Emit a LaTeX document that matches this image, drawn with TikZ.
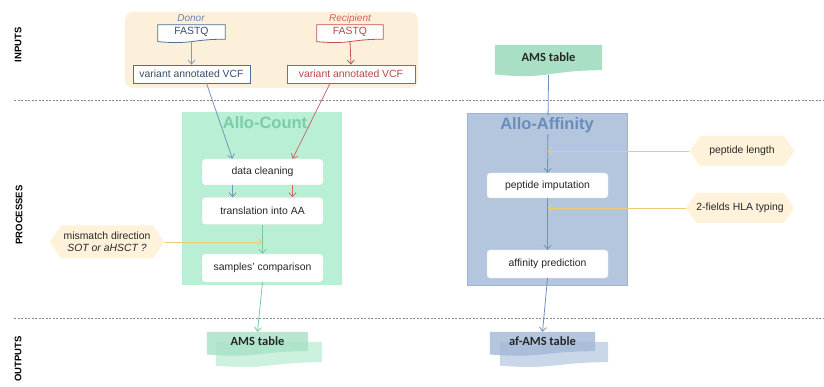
\documentclass[tikz,border=0pt]{standalone}
\usepackage{fontspec}
\setmainfont{Liberation Sans}
\newfontfamily\calib{Carlito}
\usetikzlibrary{arrows.meta,calc,shapes.symbols,backgrounds}
\definecolor{beige}{HTML}{FCF0DA}
\definecolor{donorc}{HTML}{4E6E9E}
\definecolor{recc}{HTML}{C8504F}
\definecolor{cntfill}{HTML}{B8EFD5}
\definecolor{cnttitle}{HTML}{7ACDA5}
\definecolor{cntline}{HTML}{7CC7A2}
\definecolor{afffill}{HTML}{B3C6DD}
\definecolor{affdraw}{HTML}{9EB4D0}
\definecolor{afftitle}{HTML}{6A8CB8}
\definecolor{affline}{HTML}{6F8FBD}
\definecolor{hexfill}{HTML}{FEF3DA}
\definecolor{yelline}{HTML}{EBCB7A}
\definecolor{amsinc}{HTML}{A9DFC4}
\definecolor{amsfront}{HTML}{A6E1C5}
\definecolor{amsback}{HTML}{CDF1DF}
\definecolor{affront}{HTML}{A1B8D6}
\definecolor{afback}{HTML}{C9D7E8}
\definecolor{sepc}{HTML}{8A8A8A}
\pgfdeclarelayer{back}
\pgfdeclarelayer{docs}
\pgfsetlayers{back,docs,main}
\newcommand\wavedoc[2]{%
  \path[#2] let \p1=(#1.north west), \p2=(#1.south east) in
    (\x1,\y1) -- (\x2,\y1) -- (\x2,\y2)
    .. controls ({(\x1+\x2)/2},\y2) and ({(\x1+\x2)/2},{\y1+1.384*(\y2-\y1)}) ..
    (\x1,{\y1+1.1675*(\y2-\y1)}) -- cycle;}
\tikzset{
  txt/.style={font=\fontsize{10.4}{12.5}\selectfont, text=black!85},
  sect/.style={font=\fontsize{9.5}{11}\selectfont\bfseries, rotate=90, text=black},
  sepline/.style={sepc, line width=1pt, dash pattern=on 2pt off 1.5pt},
  docnode/.style={txt, inner sep=0pt, draw=none},
  proc/.style={txt, draw=black!12, fill=white, rounded corners=3pt, inner sep=0pt, minimum width=121pt},
  vcf/.style={txt, fill=white, line width=0.8pt, inner sep=0pt, minimum height=18pt},
  bigbox/.style={inner sep=0pt},
  title/.style={font=\fontsize{16.5}{19}\selectfont\bfseries, inner sep=1pt},
  hexa/.style={txt, signal, signal to=west and east, signal pointer angle=110, fill=hexfill, inner sep=0pt},
  arr/.style={line width=0.8pt, -{Straight Barb[length=4pt,width=7pt]}},
  tablelbl/.style={font=\calib\fontsize{12.5}{14}\selectfont\bfseries, text=black!85},
}
\begin{document}
\begin{tikzpicture}[x=1pt,y=-1pt]
\useasboundingbox (0,0) rectangle (824,387);
% separators
\coordinate (s1a) at (14,101); \coordinate (s1b) at (824,101);
\coordinate (s2a) at (14,318); \coordinate (s2b) at (824,318);
\draw[sepline] (s1a) -- (s1b);
\draw[sepline] (s2a) -- (s2b);
% section labels
\node[sect] (lin) at (18,45) {INPUTS};
\node[sect] (lpr) at (19,215) {PROCESSES};
\node[sect] (lout) at (18,359) {OUTPUTS};
% background boxes
\begin{pgfonlayer}{back}
\node[bigbox, fill=beige, rounded corners=8pt, minimum width=293pt, minimum height=76pt] (inbg) at (271.5,50) {};
\node[bigbox, fill=cntfill, minimum width=160pt, minimum height=173pt] (allocount) at (262,198.5) {};
\node[bigbox, fill=afffill, draw=affdraw, line width=0.8pt, minimum width=160pt, minimum height=172pt] (alloaff) at (547,199) {};
\end{pgfonlayer}
% inputs
\node[font=\fontsize{10}{12}\selectfont\itshape, text=donorc!85] (donorlbl) at (191,18.5) {Donor};
\node[docnode, text=donorc!70!black, minimum width=67pt, minimum height=14pt] (donorfq) at (191.5,32) {FASTQ};
\node[vcf, draw=donorc, text=donorc!70!black, minimum width=117pt] (donorvcf) at (191.5,74) {variant annotated VCF};
\node[font=\fontsize{10}{12}\selectfont\itshape, text=recc!90] (reclbl) at (350,18.5) {Recipient};
\node[docnode, text=recc!90!black, minimum width=66pt, minimum height=14pt] (recfq) at (350,32) {FASTQ};
\node[vcf, draw=recc, text=recc!90!black, minimum width=128pt] (recvcf) at (351,74) {variant annotated VCF};
\node[docnode, tablelbl, minimum width=107pt, minimum height=25pt] (amsin) at (548.5,57.5) {AMS table};
% process nodes
\node[title, text=cnttitle] (cnttl) at (265,123) {Allo-Count};
\node[proc, minimum height=26pt] (dc) at (262.5,172) {data cleaning};
\node[proc, minimum height=27pt] (tr) at (262.5,211) {translation into AA};
\node[proc, minimum height=28pt] (sc) at (262.5,268) {samples' comparison};
\node[proc, minimum height=25pt] (pi) at (547.5,185.5) {peptide imputation};
\node[proc, minimum height=28pt] (ap) at (547.5,264) {affinity prediction};
% parameter hexagons
\node[hexa, minimum width=115pt, minimum height=33pt, align=center] (mm) at (107,242)
  {mismatch direction\\\textit{SOT or aHSCT ?}};
\node[hexa, minimum width=105pt, minimum height=30pt] (pl) at (742,151) {peptide length};
\node[hexa, minimum width=100pt, minimum height=30pt] (hla) at (740,208) {2-fields HLA typing};
% outputs
\node[docnode, minimum width=106pt, minimum height=20pt] (amsoutb) at (269,352) {};
\node[docnode, minimum width=101pt, minimum height=19pt] (amsout) at (257.5,341.5) {};
\node[tablelbl] (amsouttxt) at (257.5,341) {AMS table};
\node[docnode, minimum width=108pt, minimum height=20pt] (afoutb) at (554,352) {};
\node[docnode, minimum width=105pt, minimum height=19pt] (afout) at (542.5,341.5) {};
\node[tablelbl] (afouttxt) at (542.5,341) {af-AMS table};
% document shapes
\begin{pgfonlayer}{docs}
\wavedoc{donorfq}{fill=white, draw=donorc, line width=0.8pt}
\wavedoc{recfq}{fill=white, draw=recc, line width=0.8pt}
\wavedoc{amsin}{fill=amsinc}
\wavedoc{amsoutb}{fill=amsback}
\wavedoc{amsout}{fill=amsfront, fill opacity=0.8}
\wavedoc{afoutb}{fill=afback}
\wavedoc{afout}{fill=affront, fill opacity=0.8}
\end{pgfonlayer}
% connectors
\draw[arr, donorc!70] (donorfq.south) ++(0,2) -- (donorvcf.north);
\draw[arr, recc] (recfq.south) ++(0,2) -- (recvcf.north);
\draw[arr, donorc!75] ($(donorvcf.south)+(15,0)$) -- ($(dc.north)+(-30,0)$);
\draw[arr, recc!85] ($(recvcf.south)+(-21,0)$) -- ($(dc.north)+(30,0)$);
\draw[arr, donorc!75] ($(dc.south)+(-30,0)$) -- ($(tr.north)+(-30,0)$);
\draw[arr, recc!85] ($(dc.south)+(30,0)$) -- ($(tr.north)+(30,0)$);
\draw[arr, cntline] (tr.south) -- (sc.north);
\draw[arr, yelline] (mm.east) -- (mm.east -| tr.south);
\draw[arr, cntline] (sc.south) -- (amsout.north);
\draw[arr, affline] (amsin.south) ++(0,5) -- (pi.north);
\node[title, text=afftitle, fill=afffill] (afftl) at (547,125) {Allo-Affinity};
\draw[arr, yelline] (pl.west) -- (pl.west -| pi.north);
\draw[arr, affline] (pi.south) -- (ap.north);
\draw[arr, yelline] (hla.west) -- (hla.west -| pi.south);
\draw[arr, affline] (ap.south) -- (afout.north);
\end{tikzpicture}
\end{document}
